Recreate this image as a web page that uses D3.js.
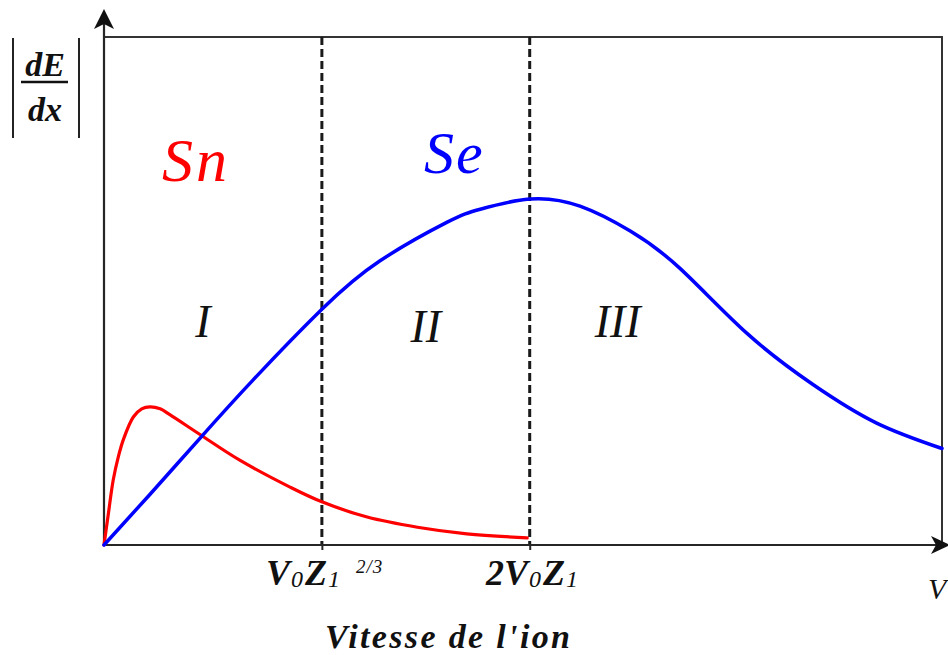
<!DOCTYPE html>
<html>
<head>
<meta charset="utf-8">
<script src="https://cdn.jsdelivr.net/npm/d3@7/dist/d3.min.js"></script>
<style>
  html, body { margin: 0; padding: 0; background: #fff; }
  svg { display: block; }
</style>
</head>
<body>
<svg id="chart" width="948" height="655"></svg>
<script>
// Electronic stopping (Se) versus ion velocity, arbitrary units
const seVelocity = [0, 5.5, 11.5, 17.8, 26.0, 32.9, 40.9, 44.9, 50.8, 56.8, 62.8, 68.7, 76.7, 84.6, 92.2, 100];
const seStopping = [0, 10.0, 21.1, 32.5, 46.4, 55.9, 63.5, 66.1, 68.1, 66.7, 61.8, 54.5, 41.7, 31.6, 24.0, 19.0];

// Nuclear stopping (Sn) versus ion velocity
const snVelocity = [0, 0.5, 1.1, 1.7, 2.3, 3.5, 4.5, 5.5, 6.7, 7.9, 11.5, 16.2, 22.2, 26.0, 31.4, 37.4, 43.3, 50.5];
const snStopping = [0, 5.9, 12.8, 17.3, 20.7, 25.2, 26.8, 27.2, 26.8, 25.6, 21.7, 16.7, 11.4, 8.5, 5.5, 3.5, 2.2, 1.4];

// Region boundaries: V0·Z1^(2/3) and 2·V0·Z1
const boundaries = [26.0, 50.8];
const regionNames = ["I", "II", "III"];
const regionCenters = [11.8, 38.4, 61.3];
const regionLevels = [43.7, 42.7, 43.7];

const width = 948, height = 655;
const margin = { left: 104, right: 6, top: 37, bottom: 110 };
const serif = "'Liberation Serif', 'Times New Roman', Times, serif";

const svg = d3.select("#chart");

const x = d3.scaleLinear().domain([0, 100]).range([margin.left, width - margin.right]);
const y = d3.scaleLinear().domain([0, 100]).range([height - margin.bottom, margin.top]);

const x0 = x(0), x1 = x(100), y0 = y(0), y1 = y(100);
const axisColor = "#262626";

// Frame: top and right edges
svg.append("path")
  .attr("d", `M${x0},${y1} H${x1} V${y0}`)
  .attr("fill", "none").attr("stroke", "#333").attr("stroke-width", 2);

// Region separators
svg.selectAll(".sep").data(boundaries).enter().append("line")
  .attr("x1", d => x(d)).attr("x2", d => x(d))
  .attr("y1", y1).attr("y2", y0)
  .attr("stroke", "#1a1a1a").attr("stroke-width", 3)
  .attr("stroke-dasharray", "8,4");

// Horizontal axis with ticks at the boundaries
const xAxis = d3.axisBottom(x).tickValues(boundaries).tickSize(5).tickSizeOuter(0).tickFormat("");
const gx = svg.append("g").attr("transform", `translate(0,${y0})`).call(xAxis);
gx.select(".domain").remove();
gx.selectAll(".tick line").attr("stroke", axisColor).attr("stroke-width", 2);

svg.append("line")
  .attr("x1", x0).attr("x2", width - 2).attr("y1", y0).attr("y2", y0)
  .attr("stroke", axisColor).attr("stroke-width", 2.2);
svg.append("path")
  .attr("d", `M${width + 2},${y0} L${width - 17},${y0 - 9} L${width - 12},${y0} L${width - 17},${y0 + 9} Z`)
  .attr("fill", "#111");

// Vertical axis
svg.append("line")
  .attr("x1", x0).attr("x2", x0).attr("y1", y0).attr("y2", 16)
  .attr("stroke", axisColor).attr("stroke-width", 2.2);
svg.append("path")
  .attr("d", `M${x0},9 L${x0 + 10},29 L${x0},24 L${x0 - 10},29 Z`)
  .attr("fill", "#111");

// Curves
const snLine = d3.line().x(d => x(d[0])).y(d => y(d[1])).curve(d3.curveCatmullRom.alpha(0.5));
const seLine = d3.line().x(d => x(d[0])).y(d => y(d[1])).curve(d3.curveNatural);

svg.append("path")
  .datum(d3.zip(snVelocity, snStopping))
  .attr("d", snLine)
  .attr("fill", "none").attr("stroke", "#ff0000").attr("stroke-width", 3.2)
  .attr("stroke-linejoin", "round").attr("stroke-linecap", "round");

svg.append("path")
  .datum(d3.zip(seVelocity, seStopping))
  .attr("d", seLine)
  .attr("fill", "none").attr("stroke", "#0000ff").attr("stroke-width", 3.5)
  .attr("stroke-linejoin", "round").attr("stroke-linecap", "round");

function label(sel, px, py, size, opts = {}) {
  return sel.append("text")
    .attr("x", px).attr("y", py)
    .attr("font-family", serif)
    .attr("font-size", size)
    .attr("font-style", "italic")
    .attr("font-weight", opts.bold ? "bold" : "normal")
    .attr("fill", opts.fill || "#111")
    .attr("text-anchor", opts.anchor || "start");
}

// Curve names
label(svg, 162, 181, 62, { fill: "#ff0000" }).attr("letter-spacing", 3).text("Sn");
label(svg, 424, 173, 60, { fill: "#0000ff" }).attr("letter-spacing", 2).text("Se");

// Region numerals
regionNames.forEach((d, i) => {
  label(svg, x(regionCenters[i]), y(regionLevels[i]) + 14, 46, { anchor: "middle" }).text(d);
});

// Boundary labels with subscripts and exponent
const lab1 = label(svg, 266, 585, 36, { bold: true });
lab1.append("tspan").text("V");
lab1.append("tspan").attr("dx", 1).attr("dy", 2).attr("font-size", 24).attr("font-weight", "normal").text("0");
lab1.append("tspan").attr("dx", 2).attr("dy", -2).text("Z");
lab1.append("tspan").attr("dx", 1).attr("dy", 2).attr("font-size", 24).attr("font-weight", "normal").text("1");
lab1.append("tspan").attr("dx", 16).attr("dy", -14).attr("font-size", 19).attr("font-weight", "normal")
  .attr("letter-spacing", 1).text("2/3");

const lab2 = label(svg, 486, 585, 36, { bold: true });
lab2.append("tspan").text("2V");
lab2.append("tspan").attr("dx", 1).attr("dy", 2).attr("font-size", 24).attr("font-weight", "normal").text("0");
lab2.append("tspan").attr("dx", 2).attr("dy", -2).text("Z");
lab2.append("tspan").attr("dx", 1).attr("dy", 2).attr("font-size", 24).attr("font-weight", "normal").text("1");

// Axis titles
label(svg, 325, 648, 34, { bold: true })
  .attr("textLength", 245).attr("lengthAdjust", "spacing")
  .text("Vitesse de l'ion");
label(svg, 928, 599, 30).text("V");

// |dE/dx|
const yt = svg.append("g");
yt.append("line").attr("x1", 13).attr("x2", 13).attr("y1", 38).attr("y2", 138)
  .attr("stroke", "#222").attr("stroke-width", 2);
yt.append("line").attr("x1", 79).attr("x2", 79).attr("y1", 38).attr("y2", 138)
  .attr("stroke", "#222").attr("stroke-width", 2);
yt.append("line").attr("x1", 21).attr("x2", 68).attr("y1", 82).attr("y2", 82)
  .attr("stroke", "#111").attr("stroke-width", 2.5);
label(yt, 45, 76, 34, { bold: true, anchor: "middle" }).text("dE");
label(yt, 45, 121, 34, { bold: true, anchor: "middle" }).text("dx");
</script>
</body>
</html>
